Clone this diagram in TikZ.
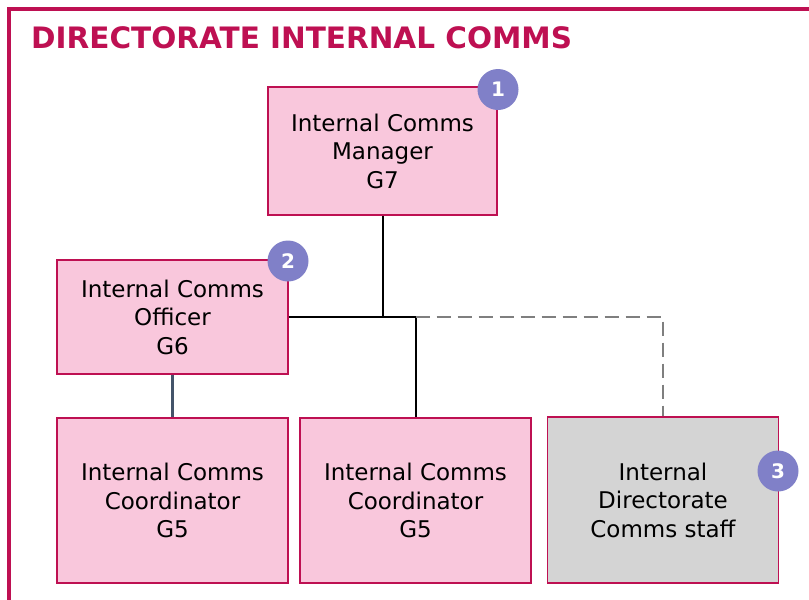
\documentclass[tikz,border=0pt]{standalone}
\usepackage{fontspec}
\setmainfont{DejaVu Sans}
\definecolor{crimson}{HTML}{BE1052}
\definecolor{rolepink}{HTML}{F9C7DC}
\definecolor{rolegray}{HTML}{D4D4D4}
\definecolor{badgeblue}{HTML}{8080C8}
\definecolor{slate}{HTML}{44546A}
\definecolor{dashgray}{HTML}{7F7F7F}
\begin{document}
\begin{tikzpicture}[x=1pt,y=-1pt,
  rolebox/.style={draw=crimson,line width=1.4pt,fill=rolepink,rectangle,
    inner sep=0pt,align=center,minimum width=231pt,
    font=\fontsize{23}{28.5}\selectfont},
  staffbox/.style={rolebox,fill=rolegray},
  badge/.style={circle,fill=badgeblue,draw=none,minimum size=41pt,inner sep=0pt,
    text=white,font=\fontsize{20}{20}\selectfont\bfseries},
  solidlink/.style={draw=black,line width=2pt},
  slatelink/.style={draw=slate,line width=3pt},
  dashlink/.style={draw=dashgray,line width=2.5pt,dash pattern=on 14pt off 7pt}]
\useasboundingbox (0,0) rectangle (809,600);
\fill[white] (0,0) rectangle (809,600);
% frame and heading
\draw[crimson,line width=3.5pt] (9,600) -- (9,9) -- (809,9);
\node[anchor=base west,inner sep=0pt,text=crimson,
  font=\fontsize{29.5}{31}\selectfont\bfseries] (title) at (31,48) {DIRECTORATE INTERNAL COMMS};
% roles
\node[rolebox,minimum width=229pt,minimum height=128pt] (mgr) at (382.5,151)
  {Internal Comms\\Manager\\G7};
\node[rolebox,minimum height=114pt] (off) at (172.5,317)
  {Internal Comms\\Officer\\G6};
\node[rolebox,minimum height=165pt] (co1) at (172.5,500.5)
  {Internal Comms\\Coordinator\\G5};
\node[rolebox,minimum height=165pt] (co2) at (415.5,500.5)
  {Internal Comms\\Coordinator\\G5};
\node[staffbox,minimum height=166pt] (staff) at (663,500)
  {Internal\\Directorate\\Comms staff};
% reporting lines
\coordinate (hub) at (mgr.south |- off.east);
\coordinate (split) at (co2.north |- off.east);
\coordinate (dashend) at (staff.north |- off.east);
\draw[solidlink] (mgr.south) -- (hub);
\draw[solidlink] (off.east) -- (split);
\draw[solidlink,line width=2.5pt] (hub) -- (split);
\draw[solidlink] (split) -- (co2.north);
\draw[dashlink] (split) -- (dashend) -- (staff.north);
\draw[slatelink] (off.south) -- (co1.north);
% numbered badges
\node[badge] (b1) at (498,89.5) {1};
\node[badge] (b2) at (288,261) {2};
\node[badge] (b3) at (778,471) {3};
\end{tikzpicture}
\end{document}
